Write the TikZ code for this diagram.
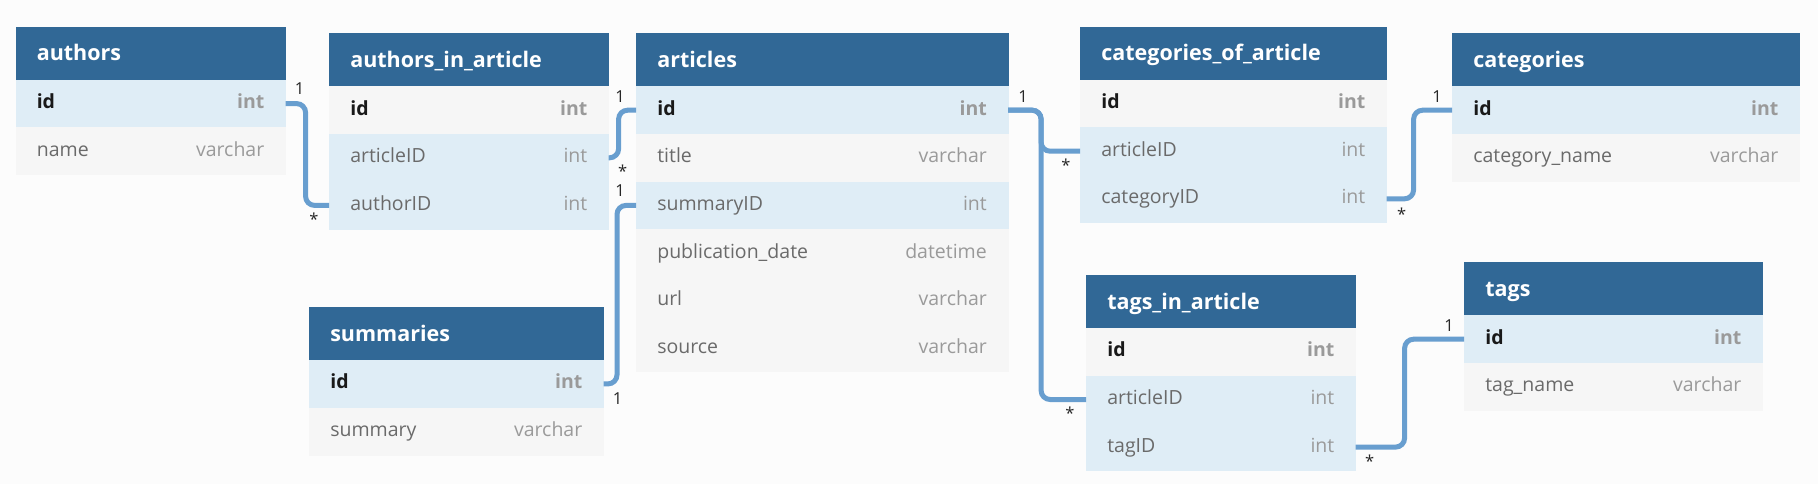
\documentclass[tikz,border=0pt]{standalone}
\usepackage{fontspec}
\setmainfont{Open Sans}
\definecolor{hdr}{HTML}{316896}
\definecolor{rblue}{HTML}{DFEDF6}
\definecolor{rgray}{HTML}{F6F6F6}
\definecolor{bg}{HTML}{FCFCFC}
\definecolor{connc}{HTML}{689ECF}
\definecolor{fld}{HTML}{6A6A6A}
\definecolor{typ}{HTML}{9A9A9A}
\tikzset{
 thead/.style={fill=hdr, draw=hdr, line width=0.6pt, text=white, font=\fontsize{21.5}{24}\selectfont\bfseries, minimum height=52.5pt, inner xsep=21pt, inner ysep=0pt, text height=18pt, text depth=3pt},
 trowbox/.style={minimum height=47pt, inner xsep=21pt, inner ysep=0pt, font=\fontsize{19.5}{22}\selectfont, text height=14.5pt, text depth=4.5pt, line width=0.6pt},
 rowb/.style={fill=rblue, draw=rblue}, rowg/.style={fill=rgray, draw=rgray},
 conn/.style={draw=connc, line width=5pt, rounded corners=9pt},
 card/.style={font=\fontsize{16.5}{18}\selectfont, text=black!85, inner sep=0pt}
}
\newcommand\tstart[5]{\pgfmathsetmacro\tw{#4-42}\def\twidth{#4}%
  \node[thead,minimum width=#4pt,anchor=north west] (#1) at (#2,#3) {\makebox[\tw pt][l]{#5}};\def\tlast{#1}}
\newcommand\krow[4]{\node[trowbox,#2,minimum width=\twidth pt,anchor=north west] (#1) at (\tlast.south west) {\makebox[\tw pt]{\bfseries\textcolor{black!90}{#3}\hfill\textcolor{typ}{#4}}};\def\tlast{#1}}
\newcommand\trow[4]{\node[trowbox,#2,minimum width=\twidth pt,anchor=north west] (#1) at (\tlast.south west) {\makebox[\tw pt]{\textcolor{fld}{#3}\hfill\textcolor{typ}{#4}}};\def\tlast{#1}}
\begin{document}
\begin{tikzpicture}[x=1pt,y=-1pt]
\useasboundingbox[fill=bg] (0,0) rectangle (1818,484);

\tstart{au}{15.5}{26.7}{269.5}{authors}
\krow{au-id}{rowb}{id}{int}
\trow{au-name}{rowg}{name}{varchar}

\tstart{aia}{329}{33.3}{279}{authors\_in\_article}
\krow{aia-id}{rowg}{id}{int}
\trow{aia-art}{rowb}{articleID}{int}
\trow{aia-auth}{rowb}{authorID}{int}

\tstart{ar}{636}{33.3}{371.5}{articles}
\krow{ar-id}{rowb}{id}{int}
\trow{ar-title}{rowg}{title}{varchar}
\trow{ar-sum}{rowb}{summaryID}{int}
\trow{ar-pub}{rowg}{publication\_date}{datetime}
\trow{ar-url}{rowg}{url}{varchar}
\trow{ar-src}{rowg}{source}{varchar}

\tstart{su}{309}{307}{294}{summaries}
\krow{su-id}{rowb}{id}{int}
\trow{su-sum}{rowg}{summary}{varchar}

\tstart{coa}{1080}{26.7}{306}{categories\_of\_article}
\krow{coa-id}{rowg}{id}{int}
\trow{coa-art}{rowb}{articleID}{int}
\trow{coa-cat}{rowb}{categoryID}{int}

\tstart{ca}{1452}{33.3}{347}{categories}
\krow{ca-id}{rowb}{id}{int}
\trow{ca-name}{rowg}{category\_name}{varchar}

\tstart{tia}{1086}{275}{269}{tags\_in\_article}
\krow{tia-id}{rowg}{id}{int}
\trow{tia-art}{rowb}{articleID}{int}
\trow{tia-tag}{rowb}{tagID}{int}

\tstart{tg}{1464}{262.3}{298}{tags}
\krow{tg-id}{rowb}{id}{int}
\trow{tg-name}{rowg}{tag\_name}{varchar}

\draw[conn] (au-id.east) -- ++(20,0) |- (aia-auth.west);
\draw[conn] (aia-art.east) -- ++(10,0) |- (ar-id.west);
\draw[conn] (ar-sum.west) -- ++(-19,0) |- (su-id.east);
\draw[conn] (ar-id.east) -- ++(33,0) |- (coa-art.west);
\draw[conn] (ar-id.east) -- ++(33,0) |- (tia-art.west);
\draw[conn] (coa-cat.east) -- ++(27,0) |- (ca-id.west);
\draw[conn] (tia-tag.east) -- ++(49,0) |- (tg-id.west);

\node[card] (c1) at ([shift={(14,-14.5)}]au-id.east) {1};
\node[card] (c2) at ([shift={(-15,14)}]aia-auth.west) {*};
\node[card] (c3) at ([shift={(-16,-14)}]ar-id.west) {1};
\node[card] (c4) at ([shift={(14,13)}]aia-art.east) {*};
\node[card] (c5) at ([shift={(-16,-15)}]ar-sum.west) {1};
\node[card] (c6) at ([shift={(14,15)}]su-id.east) {1};
\node[card] (c7) at ([shift={(15,-14)}]ar-id.east) {1};
\node[card] (c8) at ([shift={(-14,14)}]coa-art.west) {*};
\node[card] (c9) at ([shift={(-16,14)}]tia-art.west) {*};
\node[card] (c10) at ([shift={(-15,-14)}]ca-id.west) {1};
\node[card] (c11) at ([shift={(15,15)}]coa-cat.east) {*};
\node[card] (c12) at ([shift={(-15,-14)}]tg-id.west) {1};
\node[card] (c13) at ([shift={(14,14)}]tia-tag.east) {*};
\end{tikzpicture}
\end{document}
